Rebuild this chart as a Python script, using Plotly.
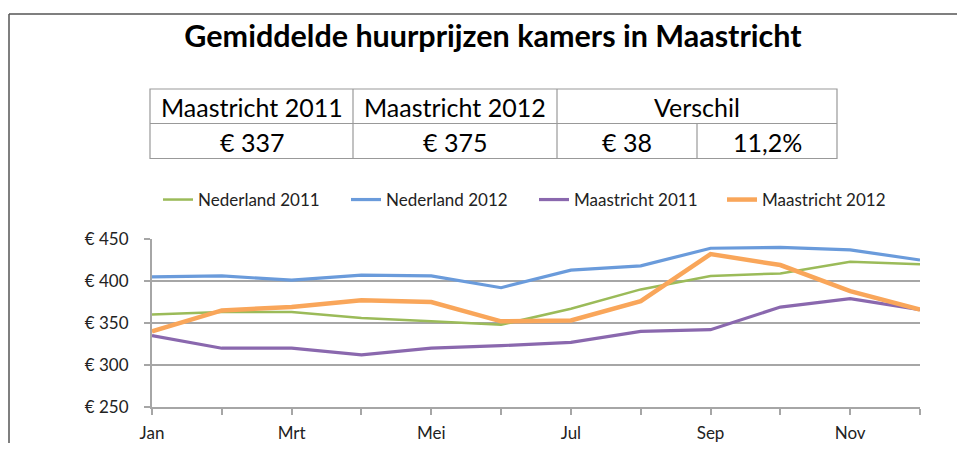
import plotly.graph_objects as go

# ---- data ----
months = ["Jan", "Feb", "Mrt", "Apr", "Mei", "Jun", "Jul", "Aug", "Sep", "Okt", "Nov", "Dec"]
month_labels = ["Jan", "", "Mrt", "", "Mei", "", "Jul", "", "Sep", "", "Nov", ""]
nederland_2011 = [360, 363, 363, 356, 352, 348, 367, 390, 406, 409, 423, 420]
nederland_2012 = [405, 406, 401, 407, 406, 392, 413, 418, 439, 440, 437, 425]
maastricht_2011 = [335, 320, 320, 312, 320, 323, 327, 340, 342, 369, 379, 366]
maastricht_2012 = [340, 365, 369, 377, 375, 352, 353, 376, 432, 419, 388, 366]
y_ticks = [250, 300, 350, 400, 450]

table_headers = ["Maastricht 2011", "Maastricht 2012", "Verschil"]
table_values = ["€ 337", "€ 375", "€ 38", "11,2%"]

title_text = "Gemiddelde huurprijzen kamers in Maastricht"

# ---- geometry (screen coords, page body has 8px margin) ----
OFF = 8
SW, SH = 965, 451
W, H = SW - 2 * OFF, SH - 2 * OFF
SL, SR, ST, SB = 152, 920, 239, 407          # plot area on screen
L, R, T, B = SL - OFF, SR - OFF, ST - OFF, SB - OFF
FONT = "Lato"


def px(sx):
    return (sx - SL) / (SR - SL)


def py(sy):
    return (SB - sy) / (SB - ST)


series = [
    ("Nederland 2011", nederland_2011, "#9BBB59", 2.5),
    ("Nederland 2012", nederland_2012, "#6A9BDB", 3.2),
    ("Maastricht 2011", maastricht_2011, "#8A68AE", 3.2),
    ("Maastricht 2012", maastricht_2012, "#F9A65A", 4.5),
]

fig = go.Figure()
for name, vals, col, w in series:
    fig.add_trace(go.Scatter(
        x=list(range(len(months))), y=vals, name=name, mode="lines",
        line=dict(color=col, width=w), hoverinfo="skip",
    ))

shapes = []
annotations = []

# outer frame (top and left edges)
shapes.append(dict(type="line", xref="paper", yref="paper",
                   x0=px(9), x1=px(975), y0=py(14), y1=py(14),
                   line=dict(color="#555555", width=1.5)))
shapes.append(dict(type="line", xref="paper", yref="paper",
                   x0=px(9), x1=px(9), y0=py(14), y1=py(460),
                   line=dict(color="#555555", width=1.5)))

# table
tl, tr, tt, tm, tb = 150, 837, 89, 123.5, 158.5
c1, c2, c3 = 353, 557, 697
gray = "#999999"
shapes.append(dict(type="rect", xref="paper", yref="paper",
                   x0=px(tl), x1=px(tr), y0=py(tb), y1=py(tt),
                   line=dict(color=gray, width=1.2)))
for seg in [(tl, tm, tr, tm), (c1, tt, c1, tb), (c2, tt, c2, tb), (c3, tm, c3, tb)]:
    shapes.append(dict(type="line", xref="paper", yref="paper",
                       x0=px(seg[0]), y0=py(seg[1]), x1=px(seg[2]), y1=py(seg[3]),
                       line=dict(color=gray, width=1.2)))

head_x = [(tl + c1) / 2, (c1 + c2) / 2, (c2 + tr) / 2]
val_x = [(tl + c1) / 2, (c1 + c2) / 2, (c2 + c3) / 2, (c3 + tr) / 2]
for xx, txt in zip(head_x, table_headers):
    annotations.append(dict(x=px(xx), y=py((tt + tm) / 2 + 1), xref="paper", yref="paper",
                            text=txt, showarrow=False, xanchor="center", yanchor="middle",
                            font=dict(family=FONT, size=25, color="#000000")))
for xx, txt in zip(val_x, table_values):
    annotations.append(dict(x=px(xx), y=py((tm + tb) / 2 + 1), xref="paper", yref="paper",
                            text=txt, showarrow=False, xanchor="center", yanchor="middle",
                            font=dict(family=FONT, size=25, color="#000000")))

fig.update_layout(
    width=W, height=H,
    margin=dict(l=L, r=W - R, t=T, b=H - B, autoexpand=False),
    paper_bgcolor="white", plot_bgcolor="white",
    title=dict(text="<b>" + title_text + "</b>", x=(493 - OFF) / W, xanchor="center",
               y=1 - (36 - OFF) / H, yanchor="middle", yref="container",
               font=dict(family=FONT, size=30.5, color="#000000")),
    font=dict(family=FONT, color="#333333"),
    showlegend=True,
    legend=dict(orientation="h", x=px(158), xanchor="left", y=py(200), yanchor="middle",
                font=dict(family=FONT, size=17, color="#222222"),
                entrywidth=143,
                bgcolor="rgba(0,0,0,0)", traceorder="normal"),
    xaxis=dict(
        range=[0, len(months) - 1], tickmode="array",
        tickvals=list(range(len(months))), ticktext=month_labels,
        showgrid=False, zeroline=False, automargin=False,
        showline=True, linecolor="#A6A6A6", linewidth=2,
        ticks="outside", ticklen=6, tickwidth=2, tickcolor="#A6A6A6",
        tickfont=dict(family=FONT, size=17, color="#222222"),
        ticklabelstandoff=4,
    ),
    yaxis=dict(
        range=[250, 450], tickmode="array", tickvals=y_ticks,
        ticktext=["€ " + str(v) for v in y_ticks],
        showgrid=True, gridcolor="#A6A6A6", gridwidth=2,
        zeroline=False, showline=True, linecolor="#A6A6A6", linewidth=2,
        automargin=False,
        ticks="outside", ticklen=6, tickwidth=2, tickcolor="#A6A6A6",
        tickfont=dict(family=FONT, size=17, color="#222222"),
        ticklabelstandoff=12,
    ),
    shapes=shapes, annotations=annotations,
)

fig.write_html("out.html")
